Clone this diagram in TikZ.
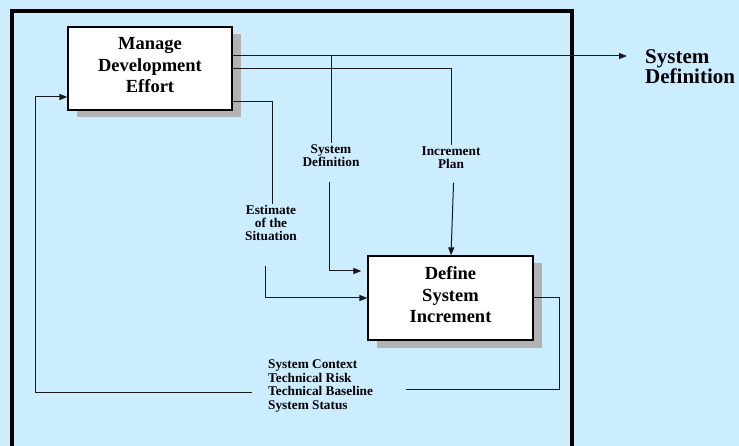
\documentclass[tikz,border=0pt]{standalone}
\usepackage{fontspec}
\setmainfont{Liberation Serif}
\usetikzlibrary{arrows.meta,shadows}
\definecolor{paper}{RGB}{204,236,255}
\definecolor{shadowgray}{RGB}{178,178,178}
\tikzset{
  box/.style={draw=black, line width=1.2pt, fill=white, align=center, text depth=6.5pt,
    font=\fontsize{18.5}{21.5}\selectfont\bfseries,
    drop shadow={shadow xshift=8.5pt, shadow yshift=-7.5pt, fill=shadowgray, opacity=1}},
  lbl/.style={align=center, inner sep=1pt, font=\fontsize{13.3}{13.3}\selectfont\bfseries},
  outlbl/.style={align=left, inner sep=0pt, anchor=west, font=\fontsize{21}{20}\selectfont\bfseries},
  wire/.style={draw=black!90, line width=1pt},
  arr/.style={wire, -{Triangle[length=8pt,width=6pt]}},
  frame/.style={draw=black, line width=4pt, line join=miter}
}
\begin{document}
\begin{tikzpicture}[x=1pt,y=-1pt]
  \fill[paper] (0,0) rectangle (739,446);
  \useasboundingbox (0,0) rectangle (739,446);
  \begin{scope}
    \clip (0,0) rectangle (739,446);
    % outer boundary, open at the bottom
    \draw[frame] (11.5,460) -- (11.5,11) -- (572,11) -- (572,460);

    % activities
    \node[box, minimum width=164pt, minimum height=83pt] (mde) at (150,68.5)
      {Manage\\Development\\Effort};
    \node[box, minimum width=165pt, minimum height=84pt] (dsi) at (450.5,298)
      {Define\\System\\Increment};

    % flow labels
    \node[lbl] (sdlbl) at (331,155.5) {System\\Definition};
    \node[lbl] (iplbl) at (451,157.5) {Increment\\Plan};
    \node[lbl] (eslbl) at (271,223) {Estimate\\of the\\Situation};
    \node[lbl, align=left, anchor=west, font=\fontsize{13.3}{13.5}\selectfont\bfseries] (fblbl) at (267,386)
      {System Context\\Technical Risk\\Technical Baseline\\System Status};
    \node[outlbl] (sdout) at (645,67) {System\\Definition};

    % helper points
    \coordinate (sdtip) at (627,56);
    \coordinate (fbr) at (559,389);
    \coordinate (fbgapr) at (406,389);
    \coordinate (fbgapl) at (252,392);
    \coordinate (fbl) at (35,392);

    % outputs of Manage Development Effort
    \draw[arr] (mde.east |- sdtip) -- (sdtip);
    \draw[wire] (sdlbl |- sdtip) -- (sdlbl.north);
    \draw[arr, shorten <=14pt, shorten >=6pt] ([xshift=-2pt]sdlbl.south) |- ([yshift=27pt]dsi.west);
    \draw[wire] (mde.east) -| (iplbl.north);
    \draw[arr, shorten <=13pt] ([xshift=3pt]iplbl.south) -- ([xshift=0.5pt]dsi.north);
    \draw[wire] ([yshift=-33.5pt]mde.east) -| ([xshift=1pt]eslbl.north);
    \draw[arr, shorten <=24pt] ([xshift=-6pt]eslbl.south) |- (dsi.west);

    % feedback from Define System Increment
    \draw[wire] (dsi.east) -| (fbr) -- (fbgapr);
    \draw[arr] (fbgapl) -- (fbl) |- ([yshift=-28.5pt]mde.west);
  \end{scope}
\end{tikzpicture}
\end{document}
